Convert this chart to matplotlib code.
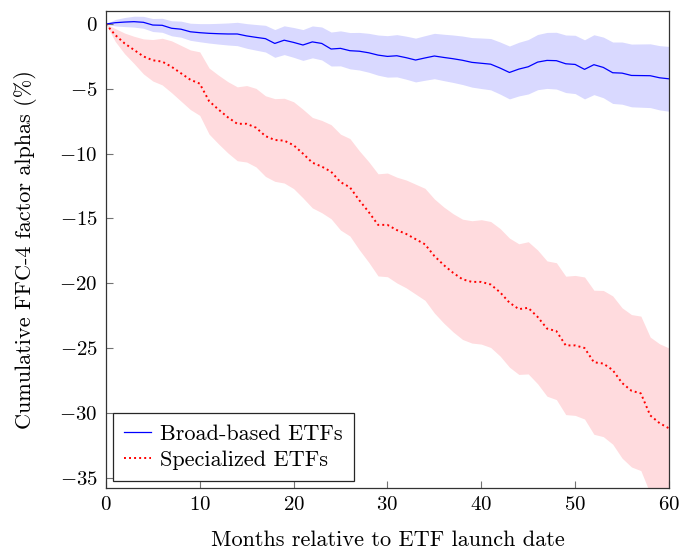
import matplotlib
matplotlib.use("Agg")
import matplotlib.pyplot as plt
import numpy as np

plt.rcParams['font.family'] = 'cmr10'
plt.rcParams['mathtext.fontset'] = 'cm'
plt.rcParams['axes.formatter.use_mathtext'] = True

# months after launch
months = list(range(0, 61))

# broad-based ETFs: cumulative alpha (%) and half-width of the band
broad = [0.0, 0.1, 0.15, 0.18, 0.13, -0.08, -0.1, -0.33, -0.4, -0.6,
         -0.67, -0.72, -0.75, -0.77, -0.77, -0.92, -1.03, -1.13, -1.5, -1.25,
         -1.42, -1.62, -1.38, -1.5, -1.93, -1.88, -2.06, -2.1, -2.22, -2.4,
         -2.5, -2.45, -2.6, -2.78, -2.62, -2.47, -2.58, -2.68, -2.8, -2.96,
         -3.03, -3.1, -3.4, -3.74, -3.48, -3.3, -2.94, -2.81, -2.83, -3.07,
         -3.12, -3.5, -3.14, -3.35, -3.76, -3.79, -3.97, -3.98, -3.99, -4.15,
         -4.23]
broad_ci = [0.0, 0.25, 0.35, 0.42, 0.46, 0.5, 0.54, 0.58, 0.62, 0.66,
            0.7, 0.75, 0.8, 0.85, 0.9, 0.95, 0.99, 1.03, 1.07, 1.11,
            1.15, 1.19, 1.23, 1.27, 1.31, 1.35, 1.4, 1.45, 1.5, 1.55,
            1.6, 1.63, 1.66, 1.69, 1.72, 1.75, 1.79, 1.83, 1.87, 1.91,
            1.95, 1.98, 2.01, 2.04, 2.07, 2.1, 2.13, 2.16, 2.19, 2.22,
            2.25, 2.28, 2.31, 2.34, 2.37, 2.4, 2.42, 2.44, 2.46, 2.48,
            2.5]

# specialized ETFs
special = [0.0, -0.85, -1.5, -2.0, -2.5, -2.8, -2.9, -3.3, -3.8, -4.3,
           -4.6, -5.95, -6.6, -7.2, -7.7, -7.7, -8.0, -8.65, -8.95, -9.0,
           -9.35, -10.0, -10.7, -11.0, -11.4, -12.2, -12.6, -13.6, -14.5, -15.5,
           -15.5, -15.9, -16.2, -16.6, -17.0, -17.9, -18.6, -19.2, -19.7, -19.9,
           -19.9, -20.1, -20.7, -21.5, -22.0, -21.9, -22.6, -23.5, -23.7, -24.8,
           -24.8, -25.0, -26.1, -26.2, -26.7, -27.7, -28.3, -28.5, -30.2, -30.8,
           -31.2]
special_ci = [0.0, 0.5, 0.8, 1.05, 1.35, 1.6, 1.8, 2.0, 2.15, 2.3,
              2.45, 2.55, 2.65, 2.75, 2.85, 2.95, 3.03, 3.11, 3.19, 3.27,
              3.35, 3.42, 3.49, 3.56, 3.63, 3.7, 3.76, 3.82, 3.88, 3.94,
              4.0, 4.08, 4.16, 4.24, 4.32, 4.4, 4.48, 4.56, 4.64, 4.72,
              4.8, 4.86, 4.92, 4.98, 5.04, 5.1, 5.16, 5.22, 5.28, 5.34,
              5.4, 5.48, 5.56, 5.64, 5.72, 5.8, 5.88, 5.96, 6.04, 6.12,
              6.2]

m = np.array(months)
b = np.array(broad)
bc = np.array(broad_ci)
s = np.array(special)
sc = np.array(special_ci)

fig = plt.figure(figsize=(6.83, 5.52), dpi=100)
ax = fig.add_axes([0.155, 0.116, 0.8245, 0.864])

ax.fill_between(m, b - bc, b + bc, color=(0.85, 0.85, 1.0), linewidth=0)
ax.fill_between(m, s - sc, s + sc, color=(1.0, 0.86, 0.87), linewidth=0)
ax.plot(m, b, color='blue', linewidth=0.9, label='Broad-based ETFs')
ax.plot(m, s, color='red', linewidth=1.4, linestyle=(0, (1, 1.6)), label='Specialized ETFs')

ax.set_xlim(0, 60)
ax.set_ylim(-35.8, 1.0)
ax.set_xticks([0, 10, 20, 30, 40, 50, 60])
ax.set_yticks([0, -5, -10, -15, -20, -25, -30, -35])
ax.tick_params(direction='in', length=5, width=0.8, color='0.45', labelsize=15, pad=6)
for sp in ax.spines.values():
    sp.set_color('0.2')
    sp.set_linewidth(0.9)

ax.set_xlabel('Months relative to ETF launch date', fontsize=16, labelpad=12)
ax.set_ylabel('Cumulative FFC-4 factor alphas (%)', fontsize=16, labelpad=16)

leg = ax.legend(loc='lower left', fontsize=16, frameon=True, fancybox=False,
                edgecolor='0.15', framealpha=1, borderaxespad=0.3,
                handlelength=1.25, handletextpad=0.4, borderpad=0.5, labelspacing=0.3)
leg.get_frame().set_linewidth(0.9)

fig.savefig('out.png', dpi=100)
